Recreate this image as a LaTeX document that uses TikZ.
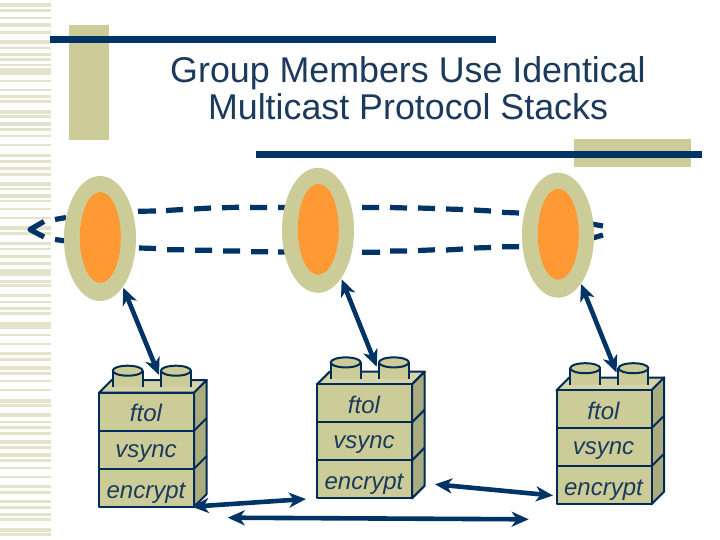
\documentclass[tikz,border=0pt]{standalone}
\usepackage{fontspec}
\setmainfont{Liberation Sans}
\usetikzlibrary{arrows.meta,shapes.geometric}
\definecolor{navy}{HTML}{003366}
\definecolor{khaki}{HTML}{CCCC99}
\definecolor{khakilight}{HTML}{D4D4A8}
\definecolor{khakidark}{HTML}{ABAB80}
\definecolor{stripe}{HTML}{E4E4CC}
\definecolor{orangefill}{HTML}{FF9933}
\definecolor{inktext}{HTML}{1B3A5C}
\tikzset{
  bar/.style={fill=navy},
  block/.style={fill=khaki},
  outerring/.style={shape=ellipse,fill=khaki,inner sep=0pt,minimum width=72pt,minimum height=125pt},
  innerring/.style={shape=ellipse,fill=orangefill,inner sep=0pt,minimum width=41pt,minimum height=91pt},
  dashline/.style={draw=navy,line width=5.2pt},
  twoway/.style={draw=navy,line width=4.6pt,{Stealth[length=17pt,width=15pt,inset=5pt]}-{Stealth[length=17pt,width=15pt,inset=5pt]}},
  stackline/.style={draw=navy!85!black,line width=2pt,line join=round},
  layertext/.style={font=\fontsize{24}{24}\selectfont\itshape,text=inktext,anchor=base,inner sep=0pt},
  titletext/.style={font=\fontsize{35.8}{37}\selectfont,text=inktext,align=center,inner sep=0pt}
}
\newcommand{\layerstack}[3]{%
  \begin{scope}[shift={(#2,#3)}]
    \filldraw[stackline,fill=khakilight] (99,392.7)--(111.7,380)--(206.7,380)--(194,392.7)--cycle;
    \filldraw[stackline,fill=khakidark] (194,392.7)--(206.7,380)--(206.7,494)--(194,506.7)--cycle;
    \draw[stackline] (194,430.7)--(206.7,418) (194,468.7)--(206.7,456);
    \filldraw[stackline,fill=khaki] (99,392.7) rectangle (194,506.7);
    \draw[stackline] (99,430.7)--(194,430.7) (99,468.7)--(194,468.7);
    \foreach \cx in {127.7,175.9}{
      \fill[khaki] (\cx-15,370.7) rectangle (\cx+15,387);
      \draw[stackline] (\cx-15,370.7)--(\cx-15,387) (\cx+15,370.7)--(\cx+15,387);
      \filldraw[stackline,fill=khaki] (\cx,370.7) ellipse [x radius=15,y radius=5];
    }
    \node[layertext] (#1ftol) at (146,421.7) {ftol};
    \node[layertext] (#1vsync) at (146,457) {vsync};
    \node[layertext] (#1encrypt) at (146,498) {encrypt};
  \end{scope}}
\begin{document}
\begin{tikzpicture}[x=1pt,y=-1pt]
\useasboundingbox (0,0) rectangle (720,540);
\fill[white] (0,0) rectangle (720,540);
% left stripes
\foreach \a/\b in {3/7,9/12,17/19,23/27,31/34,40/44,47/49,53/56,58/61,64/66,68/75,80/82,89/91,95/98,100/103,110/114,115/118,122/126,128/131,135/137,144/146,154/157,160/163,167/170,173/176,182/186,188/190,194/198,200/202,208/210,217/219,226/230,232/235,242/245,248/250,255/258,262/265,269/276,280/283,284/287,294/297,301/303,307/310,312/315,322/329,334/336,343/345,352/355,358/361,366/370,372/375,380/382,389/391,399/403,404/407,413/417,421/423,426/429,432/435,440/444,446/449,453/457,459/462,467/469,476/478,485/488,491/494,500/503,506/509,513/516,518/521,528/532,533/536}
  \fill[stripe] (0,\a) rectangle (51,\b);
% title bars
\fill[block] (69,25) rectangle (109,140);
\fill[bar] (50,36) rectangle (496,43);
\fill[block] (574,139) rectangle (691,166.7);
\fill[bar] (256,151) rectangle (702,158);
\node[titletext] (title) at (408,88) {Group Members Use Identical\\Multicast Protocol Stacks};
% dashed ring
\draw[dashline]
  (138,211.3)--(156,211) (166,210.5)--(183,209.5) (194,209)--(211,208) (222,207.8)--(239,207.2)
  (250,207.5)--(267,207.5) (278,207.5)--(295,207.5)
  (362,207.5)--(379,207.5) (390,207.5)--(407,208) (418,208)--(435,208.5) (446,209)--(463,209.5)
  (474,210)--(491,211) (502,212.3)--(519,213)
  (586,223)--(603,226)
  (139,248)--(156,248.5) (167,249.7)--(184,249.7) (195,250.3)--(212,250.3) (223,251)--(240,251)
  (251,251.7)--(268,251.7) (278,252)--(295,252)
  (362,252.3)--(380,252.3) (390,251)--(407,251) (418,250.5)--(435,249.8) (446,250)--(463,249)
  (474,248)--(491,247.5) (502,246.7)--(519,246.7)
  (586,240)--(603,235)
  (55,219.5)--(66,217.5) (55,239.5)--(66,241);
\draw[navy,line width=5.2pt,line join=round] (44,221.5)--(30,229.5)--(44,237);
% rings
\node[outerring] (ringa) at (100,238.5) {};
\node[innerring] (corea) at (100.3,237.5) {};
\node[outerring] (ringb) at (318,230.3) {};
\node[innerring] (coreb) at (318.3,229.3) {};
\node[outerring] (ringc) at (558,235.2) {};
\node[innerring] (corec) at (558.3,234.2) {};
% stacks
\layerstack{a}{0}{0}
\layerstack{b}{218}{-8.3}
\layerstack{c}{457.5}{-2.5}
% connectors
\coordinate (ta) at (123.3,287.7);
\coordinate (ba) at (159,375);
\coordinate (tb) at (341.7,279.3);
\coordinate (bb) at (376.7,366.7);
\coordinate (tc) at (581,284);
\coordinate (bc) at (616.5,372.5);
\coordinate (ha1) at (191.7,506.7);
\coordinate (ha2) at (306,499);
\coordinate (hb1) at (227.7,517.7);
\coordinate (hb2) at (528.7,519.3);
\coordinate (hc1) at (435,484.3);
\coordinate (hc2) at (553,495.5);
\draw[twoway] (ta)--(ba);
\draw[twoway] (tb)--(bb);
\draw[twoway] (tc)--(bc);
\draw[twoway] (ha1)--(ha2);
\draw[twoway] (hb1)--(hb2);
\draw[twoway] (hc1)--(hc2);
\end{tikzpicture}
\end{document}
